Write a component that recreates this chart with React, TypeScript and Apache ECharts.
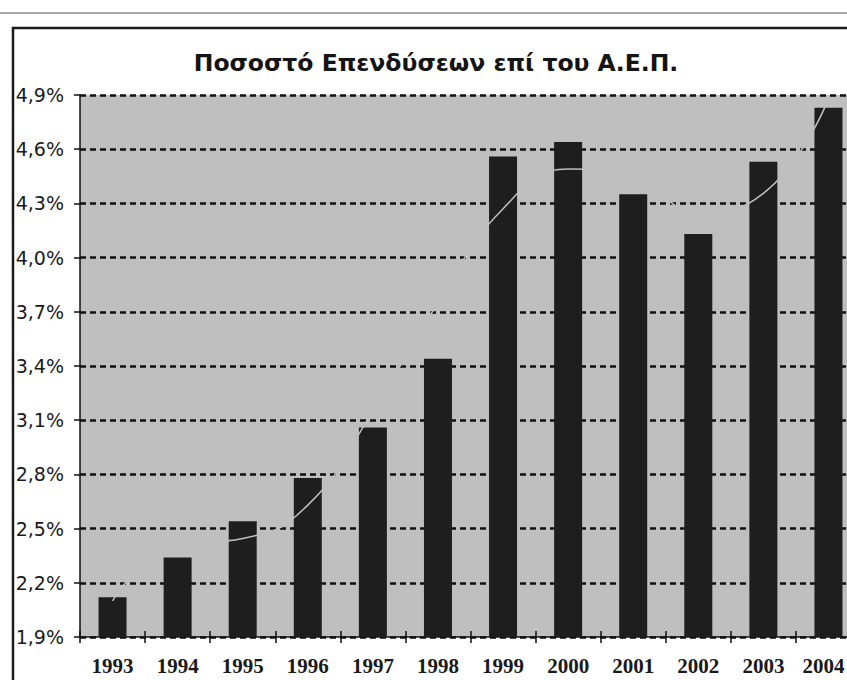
import React, { useEffect, useRef } from "react";
import * as echarts from "echarts";

const titleText = "Ποσοστό Επενδύσεων επί του Α.Ε.Π.";
const years = ["1993", "1994", "1995", "1996", "1997", "1998", "1999", "2000", "2001", "2002", "2003", "2004"];
const investmentPct = [2.12, 2.34, 2.54, 2.78, 3.06, 3.44, 4.56, 4.64, 4.35, 4.13, 4.53, 4.83];
// faint smoothed trend line (visible only where it crosses the bars)
const trendPct = [2.1, 2.41, 2.445, 2.63, 3.15, 3.75, 4.27, 4.49, 4.45, 4.25, 4.355, 4.88];
const yMin = 1.9;
const yMax = 4.9;
const yStep = 0.3;

const PLOT_BG = "#bfbfbf";

export default function App() {
  const ref = useRef<HTMLDivElement>(null);

  useEffect(() => {
    if (!ref.current) return;
    const chart = echarts.init(ref.current, undefined, { renderer: "svg" });
    const lastYear = years[years.length - 1];
    chart.setOption({
      animation: false,
      backgroundColor: "#ffffff",
      title: {
        text: titleText,
        left: 436,
        textAlign: "center",
        top: 51,
        padding: 0,
        textStyle: {
          fontFamily: "DejaVu Sans",
          fontWeight: "bold",
          fontSize: 23.5,
          color: "#141414",
        },
      },
      graphic: [
        {
          type: "line",
          shape: { x1: 0, y1: 13, x2: 880, y2: 13 },
          style: { stroke: "#8a8a8a", lineWidth: 1.5 },
        },
        {
          type: "rect",
          shape: { x: 13, y: 28, width: 900, height: 700 },
          style: { fill: "none", stroke: "#1a1a1a", lineWidth: 2.5 },
        },
      ],
      grid: {
        left: 80,
        right: 19,
        top: 95,
        bottom: 43,
        show: true,
        backgroundColor: PLOT_BG,
        borderWidth: 0,
      },
      xAxis: [
        {
          type: "category",
          data: years,
          boundaryGap: true,
          axisLine: { show: true, lineStyle: { color: "#111", width: 1.5 } },
          axisTick: { show: true, inside: false, length: 6, lineStyle: { color: "#111", width: 1.5 } },
          axisLabel: {
            interval: 0,
            hideOverlap: false,
            margin: 18,
            fontFamily: "Liberation Serif",
            fontWeight: "bold",
            fontSize: 21,
            color: "#1a1a1a",
            formatter: (v: string) => (v === lastYear ? "{last|" + v + "}" : v),
            rich: {
              last: {
                fontFamily: "Liberation Serif",
                fontWeight: "bold",
                fontSize: 21,
                color: "#1a1a1a",
                padding: [0, 10, 0, 0],
              },
            },
          },
          splitLine: { show: false },
        },
        {
          type: "category",
          data: years,
          position: "bottom",
          boundaryGap: true,
          axisLine: { show: false },
          axisTick: { show: true, inside: true, length: 6, lineStyle: { color: "#111", width: 1.5 } },
          axisLabel: { show: false },
          splitLine: { show: false },
        },
      ],
      yAxis: {
        type: "value",
        min: yMin,
        max: yMax,
        interval: yStep,
        axisLine: { show: true, lineStyle: { color: "#111", width: 1.5 } },
        axisTick: { show: true, inside: false, length: 6, lineStyle: { color: "#111", width: 1.5 } },
        axisLabel: {
          margin: 16,
          fontFamily: "DejaVu Sans",
          fontSize: 19,
          color: "#1a1a1a",
          formatter: (v: number) => v.toFixed(1).replace(".", ",") + "%",
        },
        splitLine: {
          show: true,
          lineStyle: { color: "#111", width: 2.5, type: [6, 4] },
        },
      },
      series: [
        {
          type: "bar",
          data: investmentPct,
          barWidth: 28,
          itemStyle: { color: "#1e1e1e" },
          z: 2,
        },
        {
          type: "line",
          data: trendPct,
          smooth: true,
          symbol: "none",
          lineStyle: { color: PLOT_BG, width: 1.5 },
          z: 3,
        },
      ],
    });
    return () => chart.dispose();
  }, []);

  return (
    <div style={{ position: "fixed", left: 0, top: 0, width: 847, height: 680, overflow: "hidden", background: "#fff" }}>
      <div ref={ref} style={{ width: 880, height: 680 }} />
    </div>
  );
}
